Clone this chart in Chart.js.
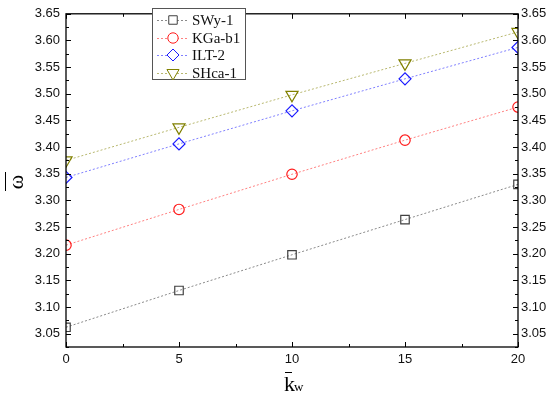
<!DOCTYPE html>
<html>
<head>
<meta charset="utf-8">
<script src="https://cdn.jsdelivr.net/npm/chart.js@4"></script>
<style>
  html, body { margin: 0; padding: 0; background: #fff; }
  #wrap { width: 550px; height: 395px; }
</style>
</head>
<body>
<div id="wrap"><canvas id="omegaChart" width="550" height="395"></canvas></div>
<script>
// k_w values on the x axis
const kw = [0, 5, 10, 15, 20];

// omega values
const swy1 = [3.062, 3.131, 3.198, 3.264, 3.330];
const kgab1 = [3.216, 3.283, 3.349, 3.413, 3.475];
const ilt2 = [3.343, 3.406, 3.468, 3.528, 3.587];
const shca1 = [3.375, 3.437, 3.498, 3.557, 3.616];

const seriesNames = ["SWy-1", "KGa-b1", "ILT-2", "SHca-1"];

const yMin = 3.025, yMax = 3.65, yStep = 0.05;
const xMin = 0, xMax = 20, xStep = 5;

function pts(ys) {
  return kw.map((x, i) => ({ x: x, y: ys[i] }));
}

function makeSet(label, ys, line, mark, style, radius, rotation) {
  return {
    label: label,
    data: pts(ys),
    borderColor: line,
    borderWidth: 1,
    borderDash: [2, 2],
    pointStyle: style,
    pointRadius: radius,
    pointHoverRadius: radius,
    pointRotation: rotation || 0,
    pointBorderColor: mark,
    pointBackgroundColor: "rgba(255,255,255,0)",
    pointBorderWidth: 1.2,
    tension: 0
  };
}

const datasets = [
  makeSet(seriesNames[0], swy1, "#8a8a8a", "#404040", "rect", 6),
  makeSet(seriesNames[1], kgab1, "#ff8080", "#ff1a1a", "circle", 5.2),
  makeSet(seriesNames[2], ilt2, "#8080ff", "#1a1aff", "rectRot", 6),
  makeSet(seriesNames[3], shca1, "#b8b870", "#808000", "triangle", 7, 180)
];

// frame, inward tick marks, axis titles and legend box
const decorPlugin = {
  id: "decor",
  afterDraw(chart) {
    const ctx = chart.ctx;
    const a = chart.chartArea;
    const xs = chart.scales.x, ys = chart.scales.y;

    ctx.save();
    ctx.strokeStyle = "#000";
    ctx.lineWidth = 1.3;
    ctx.strokeRect(a.left, a.top, a.right - a.left, a.bottom - a.top);

    ctx.lineWidth = 1;
    ctx.beginPath();
    for (let v = xMin; v <= xMax + 1e-9; v += xStep / 2) {
      const major = Math.abs(v / xStep - Math.round(v / xStep)) < 1e-6;
      const len = major ? 5 : 3;
      const px = Math.round(xs.getPixelForValue(v)) + 0.5;
      ctx.moveTo(px, a.bottom); ctx.lineTo(px, a.bottom - len);
      ctx.moveTo(px, a.top); ctx.lineTo(px, a.top + len);
    }
    for (let v = 3.025; v <= yMax + 1e-9; v += yStep / 2) {
      const major = Math.abs(v / yStep - Math.round(v / yStep)) < 1e-6;
      const len = major ? 5 : 3;
      const py = Math.round(ys.getPixelForValue(v)) + 0.5;
      ctx.moveTo(a.left, py); ctx.lineTo(a.left + len, py);
      ctx.moveTo(a.right, py); ctx.lineTo(a.right - len, py);
    }
    ctx.stroke();

    // y title: omega with bar, rotated
    ctx.fillStyle = "#000";
    ctx.save();
    ctx.translate(17, 182);
    ctx.rotate(-Math.PI / 2);
    ctx.font = "22px 'Liberation Serif', 'Times New Roman', serif";
    ctx.textAlign = "center";
    ctx.textBaseline = "middle";
    ctx.fillText("ω", 0, 0);
    ctx.restore();
    ctx.beginPath();
    ctx.lineWidth = 1;
    ctx.moveTo(5.5, 172); ctx.lineTo(5.5, 191);
    ctx.stroke();

    // x title: k with bar and subscript w
    ctx.font = "22px 'Liberation Serif', 'Times New Roman', serif";
    ctx.textAlign = "left";
    ctx.textBaseline = "alphabetic";
    ctx.fillText("k", 284, 391);
    ctx.font = "13px 'Liberation Serif', 'Times New Roman', serif";
    ctx.fillText("w", 294, 391);
    ctx.beginPath();
    ctx.moveTo(285, 372.5); ctx.lineTo(292, 372.5);
    ctx.stroke();

    // legend
    const lx = 152, ly = 8, lw = 93, lh = 71;
    ctx.fillStyle = "#fff";
    ctx.fillRect(lx, ly, lw, lh);
    ctx.strokeStyle = "#555";
    ctx.lineWidth = 1;
    ctx.strokeRect(lx + 0.5, ly + 0.5, lw, lh);
    const rowY = [20, 38, 55, 73];
    chart.data.datasets.forEach((ds, i) => {
      const y = rowY[i];
      ctx.save();
      ctx.strokeStyle = ds.borderColor;
      ctx.lineWidth = 1;
      ctx.setLineDash([2, 2]);
      ctx.beginPath();
      ctx.moveTo(157, y + 0.5); ctx.lineTo(188, y + 0.5);
      ctx.stroke();
      ctx.restore();
      ctx.save();
      ctx.strokeStyle = ds.pointBorderColor;
      ctx.fillStyle = "#fff";
      Chart.helpers.drawPoint(ctx, {
        pointStyle: ds.pointStyle,
        radius: ds.pointRadius,
        rotation: ds.pointRotation,
        borderWidth: ds.pointBorderWidth
      }, 173, y);
      ctx.restore();
      ctx.fillStyle = "#111";
      ctx.font = "15px 'Liberation Serif', 'Times New Roman', serif";
      ctx.textBaseline = "middle";
      ctx.fillText(ds.label, 192, y + 1);
    });
    ctx.restore();
  }
};

const tickFont = { family: "'Liberation Sans', Arial, sans-serif", size: 13 };

new Chart(document.getElementById("omegaChart"), {
  type: "line",
  data: { datasets: datasets },
  options: {
    responsive: false,
    animation: false,
    events: [],
    layout: { padding: { top: 10, right: 0, left: 0, bottom: 0 } },
    plugins: {
      legend: { display: false },
      tooltip: { enabled: false }
    },
    scales: {
      x: {
        type: "linear",
        min: xMin,
        max: xMax,
        grid: { display: false, drawTicks: false },
        border: { display: false },
        ticks: { stepSize: xStep, padding: 5, color: "#111", font: tickFont },
        afterFit(s) { s.height = 48; }
      },
      y: {
        position: "left",
        min: yMin,
        max: yMax,
        grid: { display: false, drawTicks: false },
        border: { display: false },
        ticks: {
          stepSize: yStep, includeBounds: false, padding: 6, color: "#111", font: tickFont,
          callback: v => Number(v).toFixed(2)
        },
        afterFit(s) { s.width = 66; }
      },
      y2: {
        position: "right",
        min: yMin,
        max: yMax,
        grid: { display: false, drawTicks: false },
        border: { display: false },
        ticks: {
          stepSize: yStep, includeBounds: false, padding: 3, color: "#111", font: tickFont,
          callback: v => Number(v).toFixed(2)
        },
        afterFit(s) { s.width = 32; }
      }
    }
  },
  plugins: [decorPlugin]
});
</script>
</body>
</html>
